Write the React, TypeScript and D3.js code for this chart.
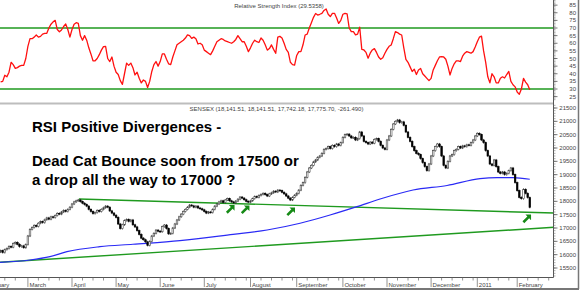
import React from 'react';
import * as d3 from 'd3';

// ---------- DATA ----------
const START_INDEX = 6; // trading-day index of the first visible bar
const FIRST_OPEN = 16100;

// daily closes, SENSEX, Feb 2010 .. Feb 2011
const closesFeb10 = [16150, 16080, 16190, 16230, 16310, 16280, 16420, 16460, 16390, 16300, 16330, 16260, 16380];
const closesMar10 = [16700, 16950, 17020, 17100, 17060, 17180, 17240, 17200, 17310, 17380, 17330, 17420, 17390, 17470, 17550, 17520, 17600, 17660, 17620, 17700, 17780];
const closesApr10 = [17900, 17980, 18020, 18050, 17990, 17930, 17880, 17820, 17700, 17620, 17540, 17580, 17660, 17620, 17700, 17760, 17820, 17780, 17640, 17560, 17480];
const closesMay10 = [17400, 17150, 16980, 17120, 17280, 17320, 17250, 17300, 17120, 17040, 16900, 16760, 16620, 16560, 16480, 16350, 16500, 16700, 16800, 16920, 16880];
const closesJun10 = [16860, 17050, 17110, 16980, 16780, 16800, 17000, 17150, 17300, 17420, 17520, 17620, 17700, 17780, 17860, 17830, 17780, 17820, 17750, 17720, 17680];
const closesJul10 = [17620, 17560, 17600, 17580, 17700, 17820, 17900, 17980, 18020, 17960, 18050, 18100, 18020, 17980, 17940, 18010, 18080, 18160, 18120, 18060, 18000, 17970];
const closesAug10 = [18020, 18100, 18180, 18150, 18220, 18260, 18300, 18250, 18200, 18280, 18320, 18380, 18350, 18420, 18400, 18340, 18280, 18200, 18120, 18050, 18150, 18230];
const closesSep10 = [18300, 18420, 18600, 18700, 18900, 19100, 19250, 19350, 19480, 19550, 19650, 19700, 19800, 19950, 19980, 20050, 19980, 20100, 20050, 20150, 20100, 20200];
const closesOct10 = [20400, 20500, 20520, 20450, 20380, 20400, 20300, 20350, 20600, 20450, 20250, 20200, 20150, 20220, 20180, 20320, 20350, 20250, 20100, 20000, 19950];
const closesNov10 = [20300, 20450, 20700, 20900, 21000, 21050, 20950, 20980, 20850, 20600, 20400, 20250, 20050, 19900, 19800, 19750, 19600, 19450, 19300, 19150, 19400];
const closesDec10 = [19700, 19900, 20050, 20150, 20050, 19700, 19350, 19250, 19500, 19700, 19750, 19900, 19950, 20050, 20000, 20080, 20050, 20120, 20100, 20200, 20300, 20450];
const closesJan11 = [20550, 20500, 20300, 20200, 19900, 19700, 19400, 19350, 19550, 19300, 19100, 19050, 19100, 19000, 19050, 19150, 19250, 19000, 18700];
const closesFeb11 = [18400, 18150, 18100, 18450, 18300, 18140, 17776];

// RSI(14) values for the same bars
const rsiFeb10 = [34.6, 35, 39, 38, 41, 47.5, 46, 43.5, 44, 45, 45.5, 45.5, 50];
const rsiMar10 = [58, 63, 63, 64, 65.4, 64, 64.5, 66, 66.5, 66.5, 70, 72.5, 74, 75, 69, 67.5, 68.7, 71, 72.6, 69, 64];
const rsiApr10 = [69, 72.5, 73.5, 73, 65, 62, 65, 62, 57, 53, 48.5, 48.5, 50, 52.5, 55.5, 57.8, 58, 50, 48, 51, 45];
const rsiMay10 = [41, 39.5, 35.5, 33, 40, 47, 45.5, 47, 44, 39.2, 41, 37, 34, 35.9, 35, 31, 35, 41.5, 46, 48, 45];
const rsiJun10 = [48, 53, 53, 49.5, 46.5, 46, 51, 55, 59, 60, 61, 62, 63.4, 65.5, 65, 63.2, 64, 63, 59.5, 60, 59];
const rsiJul10 = [55.5, 54.5, 53.5, 52.5, 55, 58, 61, 62, 63, 62.5, 61.5, 61, 60.5, 60, 61, 62.5, 65, 63, 61, 61, 58, 54.5];
const rsiAug10 = [57, 60, 62, 61, 60.5, 63.5, 62, 59, 55.5, 56.5, 58.9, 56, 53.4, 64, 64.5, 63.5, 60, 56, 54, 47.5, 46, 45.7];
const rsiSep10 = [52, 54.5, 54.5, 59, 65.4, 66, 70, 73.5, 77, 79.5, 78.5, 79, 79.6, 81.5, 82.5, 79, 77.5, 79.6, 79.6, 76.5, 73, 75];
const rsiOct10 = [79, 79.6, 79.3, 70, 67.6, 67.6, 65.5, 66, 70.5, 56, 55.6, 54, 50.2, 53.5, 55.6, 56.5, 54, 51, 49.5, 50.5, 53.4];
const rsiNov10 = [56, 58, 58.9, 63, 67.6, 67, 66, 65.4, 57, 49.5, 47.5, 44.5, 41.5, 43, 39.5, 42.5, 43.5, 40, 38.5, 37, 35.5];
const rsiDec10 = [37, 42.5, 45.5, 48.5, 51, 51.2, 51, 49.5, 45, 39.2, 43.5, 46.5, 48.5, 48.5, 48, 51.5, 53.5, 54.5, 54, 53.5, 54.5, 57.5];
const rsiJan11 = [61, 64, 64.7, 55, 47.5, 38, 34, 40, 38, 34, 34, 37, 38, 37.2, 39.5, 41.5, 35, 32.8, 31.4];
const rsiFeb11 = [28, 26.5, 30, 37, 34.5, 32.8, 29.54];

// moving average (blue) read at a few bars
const maIdx = [5.7, 20, 29.5, 37.6, 53.3, 69, 91.4, 116.7, 132.9, 148.6, 162.9, 175.7, 186.7, 202.4, 218.6, 234.3, 242.4, 250, 258];
const maVal = [15710, 15800, 15925, 16112, 16300, 16390, 16525, 16764, 16925, 17177, 17488, 17800, 18088, 18425, 18594, 18850, 18887, 18887, 18827];

// green trend lines (start / end in bar index and price)
const upperTrendIdx = [43.3, 269.5];
const upperTrendVal = [18090, 17560];
const lowerTrendIdx = [5.7, 269.5];
const lowerTrendVal = [15714, 17027];

// RSI reference levels
const rsiLevels = [30, 70];

// green arrows (tip position)
const arrowIdx = [117.4, 124.5, 146.2, 258.6];
const arrowVal = [17860, 17845, 17770, 17505];

// x axis
const monthLabels = ['February', 'March', 'April', 'May', 'June', 'July', 'August', 'September', 'October', 'November', 'December', '2011', 'February'];
const monthStart = [-2, 19, 40, 61, 82, 103, 125, 147, 169, 190, 211, 233, 252];

// y axes
const rsiTicks = [25, 30, 35, 40, 45, 50, 55, 60, 65, 70, 75, 80, 85];
const priceTicks = [15500, 16000, 16500, 17000, 17500, 18000, 18500, 19000, 19500, 20000, 20500, 21000, 21500];

const rsiTitle = 'Relative Strength Index (29.5358)';
const priceTitle = 'SENSEX (18,141.51, 18,141.51, 17,742.18, 17,775.70, -261.490)';
const noteLines = ['RSI Positive Divergences -', 'Dead Cat Bounce soon from 17500 or', 'a drop all the way to 17000 ?'];

const closes = [
  ...closesFeb10, ...closesMar10, ...closesApr10, ...closesMay10, ...closesJun10, ...closesJul10,
  ...closesAug10, ...closesSep10, ...closesOct10, ...closesNov10, ...closesDec10, ...closesJan11, ...closesFeb11,
];
const rsi = [
  ...rsiFeb10, ...rsiMar10, ...rsiApr10, ...rsiMay10, ...rsiJun10, ...rsiJul10,
  ...rsiAug10, ...rsiSep10, ...rsiOct10, ...rsiNov10, ...rsiDec10, ...rsiJan11, ...rsiFeb11,
];

const FONT = '"Liberation Sans", Arial, sans-serif';

export default function App() {
  const W = 582;
  const H = 291;
  const axisX = 553.5;
  const axisBottom = 277.5;
  const sepY = 103.5;

  const x = d3.scaleLinear().domain([0, 100]).range([-12, 198]);
  const yR = d3.scaleLinear().domain([30, 70]).range([89, 28]);
  const yP = d3.scaleLinear().domain([15500, 21500]).range([268, 108]);

  const idx = closes.map((_, k) => START_INDEX + k);
  const opens = closes.map((c, k) => (k === 0 ? FIRST_OPEN : closes[k - 1]));

  const rsiPath = d3.line<number>().x((_, k) => x(idx[k])).y((d) => yR(d))(rsi) || '';
  const maPath = d3
    .line<number>()
    .x((_, k) => x(maIdx[k]))
    .y((d) => yP(d))
    .curve(d3.curveMonotoneX)(maVal) || '';
  const upperPath = d3.line<number>().x((_, k) => x(upperTrendIdx[k])).y((d) => yP(d))(upperTrendVal) || '';
  const lowerPath = d3.line<number>().x((_, k) => x(lowerTrendIdx[k])).y((d) => yP(d))(lowerTrendVal) || '';

  const wick = 40;

  const minorRsi = d3.range(23, 89, 1);
  const minorPrice = d3.range(15200, 21800, 100);

  const minorX: number[] = [];
  monthStart.forEach((m, j) => {
    const next = j + 1 < monthStart.length ? monthStart[j + 1] : 270;
    for (let t = m + 5; t < next - 1; t += 5) minorX.push(t);
  });

  const arrowShape = 'M0,0 L0,5.6 L-1.9,3.7 L-6.8,8.6 L-8.6,6.8 L-3.7,1.9 L-5.6,0 Z';

  return (
    <svg
      width={W}
      height={H}
      style={{ position: 'absolute', left: 0, top: 0, display: 'block', background: '#fff' }}
      fontFamily={FONT}
    >
      <defs>
        <clipPath id="rsiClip">
          <rect x={0} y={0} width={axisX} height={sepY - 1} />
        </clipPath>
        <clipPath id="priceClip">
          <rect x={0} y={sepY + 1} width={axisX} height={axisBottom - sepY - 1} />
        </clipPath>
      </defs>
      <rect x={0} y={0} width={W} height={H} fill="#fff" />

      {/* RSI panel */}
      <text x={279} y={7.5} fontSize={6} fill="#444" textAnchor="middle">{rsiTitle}</text>
      <g clipPath="url(#rsiClip)">
        {rsiLevels.map((l) => (
          <line key={l} x1={0} x2={axisX} y1={yR(l)} y2={yR(l)} stroke="#1f9a1f" strokeWidth={1.4} />
        ))}
        <path d={rsiPath} fill="none" stroke="#ff1010" strokeWidth={1.3} strokeLinejoin="round" />
      </g>

      {/* separator */}
      <line x1={0} x2={axisX} y1={sepY} y2={sepY} stroke="#bdbdbd" strokeWidth={2} />

      {/* price panel */}
      <text x={276.5} y={111} fontSize={6} fill="#444" textAnchor="middle">{priceTitle}</text>
      <g clipPath="url(#priceClip)">
        <path d={lowerPath} fill="none" stroke="#1f9a1f" strokeWidth={1.4} />
        <path d={upperPath} fill="none" stroke="#1f9a1f" strokeWidth={1.4} />
        <path d={maPath} fill="none" stroke="#2a2af5" strokeWidth={1.2} />
        {closes.map((c, k) => {
          const o = opens[k];
          const cx = x(idx[k]);
          const hi = Math.max(o, c);
          const lo = Math.min(o, c);
          const top = yP(hi);
          const bot = yP(lo);
          const up = c >= o;
          return (
            <g key={k}>
              <line x1={cx} x2={cx} y1={yP(hi + wick)} y2={yP(lo - wick)} stroke="#222" strokeWidth={0.7} />
              <rect
                x={cx - 0.8}
                y={top}
                width={1.6}
                height={Math.max(0.8, bot - top)}
                fill={up ? '#fff' : '#000'}
                stroke={up ? '#444' : '#000'}
                strokeWidth={0.6}
              />
            </g>
          );
        })}
        {arrowIdx.map((a, k) => (
          <path key={k} d={arrowShape} transform={`translate(${x(a)},${yP(arrowVal[k])})`} fill="#168a16" />
        ))}
      </g>

      {/* annotation */}
      {noteLines.map((t, k) => (
        <text key={k} x={32} y={[131.5, 166, 185][k]} fontSize={15} fontWeight="bold" fill="#000">{t}</text>
      ))}

      {/* right axis */}
      <line x1={axisX} x2={axisX} y1={0} y2={axisBottom} stroke="#555" strokeWidth={1} />
      {minorRsi.map((t) => (
        <line key={'mr' + t} x1={axisX} x2={axisX + 2} y1={yR(t)} y2={yR(t)} stroke="#777" strokeWidth={0.6} />
      ))}
      {rsiTicks.map((t) => (
        <g key={'r' + t}>
          <line x1={axisX} x2={axisX + 4} y1={yR(t)} y2={yR(t)} stroke="#555" strokeWidth={0.8} />
          <text x={576} y={yR(t) + 2} fontSize={6} fill="#444" textAnchor="end">{t}</text>
        </g>
      ))}
      {minorPrice
        .filter((t) => yP(t) > sepY + 1 && yP(t) < axisBottom)
        .map((t) => (
          <line key={'mp' + t} x1={axisX} x2={axisX + 2} y1={yP(t)} y2={yP(t)} stroke="#777" strokeWidth={0.6} />
        ))}
      {priceTicks.map((t) => (
        <g key={'p' + t}>
          <line x1={axisX} x2={axisX + 4} y1={yP(t)} y2={yP(t)} stroke="#555" strokeWidth={0.8} />
          <text x={576} y={yP(t) + 2} fontSize={6} fill="#444" textAnchor="end">{t}</text>
        </g>
      ))}

      {/* bottom axis */}
      <line x1={0} x2={axisX} y1={axisBottom} y2={axisBottom} stroke="#555" strokeWidth={1} />
      {minorX
        .filter((t) => x(t) > 0 && x(t) < axisX)
        .map((t) => (
          <line key={'mx' + t} x1={x(t)} x2={x(t)} y1={axisBottom} y2={axisBottom + 3} stroke="#666" strokeWidth={0.7} />
        ))}
      {monthStart.map((m, j) => (
        <g key={'m' + j}>
          <line x1={x(m)} x2={x(m)} y1={axisBottom} y2={287} stroke="#666" strokeWidth={0.7} />
          <text x={x(m) + 1.5} y={286.5} fontSize={6} fill="#444">{monthLabels[j]}</text>
        </g>
      ))}

      {/* frame shadow */}
      <line x1={578.5} x2={578.5} y1={0} y2={289} stroke="#777" strokeWidth={1.5} />
      <line x1={0} x2={579} y1={289} y2={289} stroke="#777" strokeWidth={2} />
    </svg>
  );
}
